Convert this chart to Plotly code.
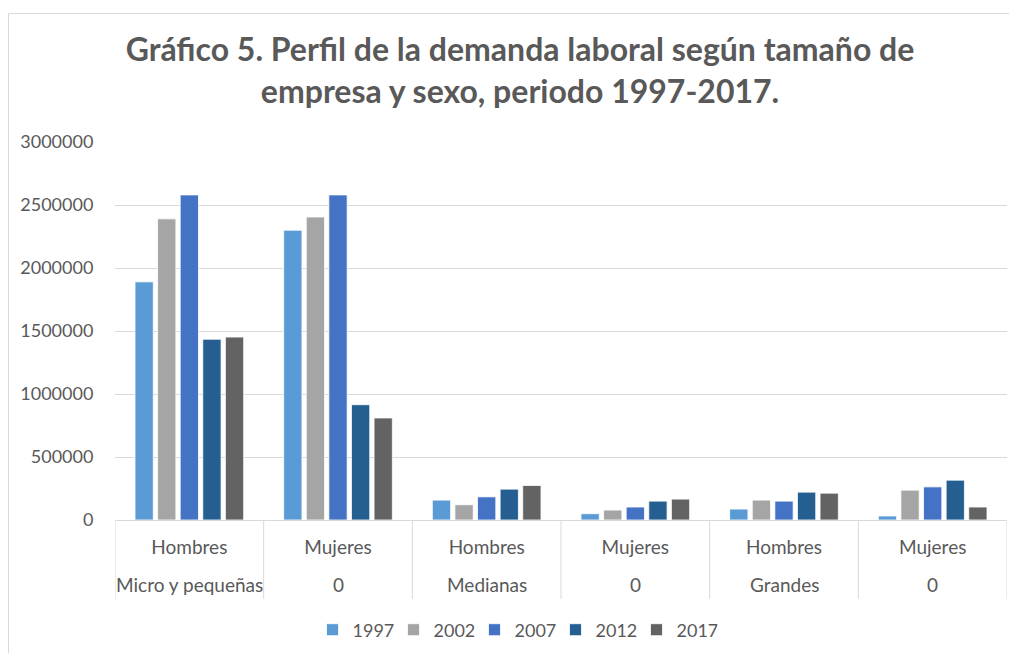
import plotly.graph_objects as go

# ---------------- data ----------------
categories_outer = ["Micro y pequeñas", "0", "Medianas", "0", "Grandes", "0"]
categories_inner = ["Hombres", "Mujeres", "Hombres", "Mujeres", "Hombres", "Mujeres"]
years = ["1997", "2002", "2007", "2012", "2017"]

v1997 = [1890000, 2300000, 158000, 50000, 87000, 32000]
v2002 = [2390000, 2405000, 121000, 79000, 158000, 237000]
v2007 = [2580000, 2580000, 184000, 103000, 150000, 263000]
v2012 = [1435000, 915000, 245000, 150000, 221000, 316000]
v2017 = [1452000, 810000, 274000, 166000, 213000, 103000]

y_ticks = [0, 500000, 1000000, 1500000, 2000000, 2500000, 3000000]

series = [v1997, v2002, v2007, v2012, v2017]
colors = ["#5B9BD5", "#A5A5A5", "#4472C4", "#255E91", "#636363"]

FONT = "Lato"
GREY = "#595959"
LINE = "#D9D9D9"

# geometry: the page places the figure 8px in from the top-left corner
OFF = 8
W, H = 1009, 645
L, T = 115 - OFF, 142 - OFF
RIGHT, BOTTOM = 1007 - OFF, 520 - OFF
R, B = W - RIGHT, H - BOTTOM
plot_w = RIGHT - L
plot_h = BOTTOM - T


def py(page_y):
    """page pixel y -> paper y"""
    return (BOTTOM - (page_y - OFF)) / plot_h


def px(page_x):
    """page pixel x -> paper x"""
    return ((page_x - OFF) - L) / plot_w


xpos = list(range(len(categories_inner)))

fig = go.Figure()
for name, vals, col in zip(years, series, colors):
    fig.add_trace(go.Bar(
        x=xpos, y=vals, name=name,
        marker=dict(color=col, line=dict(color="rgba(255,255,255,0.8)", width=1)),
    ))

shapes = []
# category separators
for i in range(len(xpos) + 1):
    shapes.append(dict(type="line", xref="x", yref="paper",
                       x0=i - 0.5, x1=i - 0.5, y0=0, y1=py(599),
                       line=dict(color=LINE, width=1)))
# chart border
shapes.append(dict(type="rect", xref="paper", yref="paper",
                   x0=px(8.5), x1=px(1040), y0=py(680), y1=py(13.5),
                   line=dict(color=LINE, width=1), fillcolor="rgba(0,0,0,0)"))

annotations = []
for i, lab in enumerate(categories_outer):
    annotations.append(dict(x=i, y=py(584), xref="x", yref="paper",
                            text=lab, showarrow=False, yanchor="middle",
                            font=dict(family=FONT, size=19, color=GREY)))

fig.update_layout(
    width=W, height=H,
    margin=dict(l=L, r=R, t=T, b=B, autoexpand=False),
    paper_bgcolor="white", plot_bgcolor="white",
    barmode="group", bargap=0.24, bargroupgap=0.19,
    title=dict(
        text="<b>Gráfico 5. Perfil de la demanda laboral según tamaño de<br>empresa y sexo, periodo 1997-2017.</b>",
        x=(520 - OFF) / W, xanchor="center", xref="container",
        y=1 - 53 / H, yanchor="top", yref="container",
        font=dict(family=FONT, size=32, color=GREY),
        automargin=False,
    ),
    xaxis=dict(
        range=[-0.5, len(xpos) - 0.5],
        tickmode="array", tickvals=xpos, ticktext=categories_inner,
        ticks="outside", ticklen=10, tickcolor="rgba(0,0,0,0)",
        tickfont=dict(family=FONT, size=19, color=GREY),
        showline=True, linecolor=LINE, linewidth=1,
        showgrid=False, zeroline=False, automargin=False,
    ),
    yaxis=dict(
        range=[0, 3000000],
        tickmode="array", tickvals=y_ticks, ticktext=[str(v) for v in y_ticks],
        tickfont=dict(family=FONT, size=18, color=GREY),
        showgrid=True, gridcolor=LINE, gridwidth=1,
        zeroline=False, ticks="outside", ticklen=17,
        tickcolor="rgba(0,0,0,0)", automargin=False,
    ),
    legend=dict(
        orientation="h", x=px(515), xanchor="center",
        y=py(630), yanchor="middle",
        font=dict(family=FONT, size=18, color=GREY),
        itemwidth=30, traceorder="normal",
        entrywidth=36, entrywidthmode="pixels",
    ),
    shapes=shapes,
    annotations=annotations,
    showlegend=True,
)

fig.write_html("out.html")
